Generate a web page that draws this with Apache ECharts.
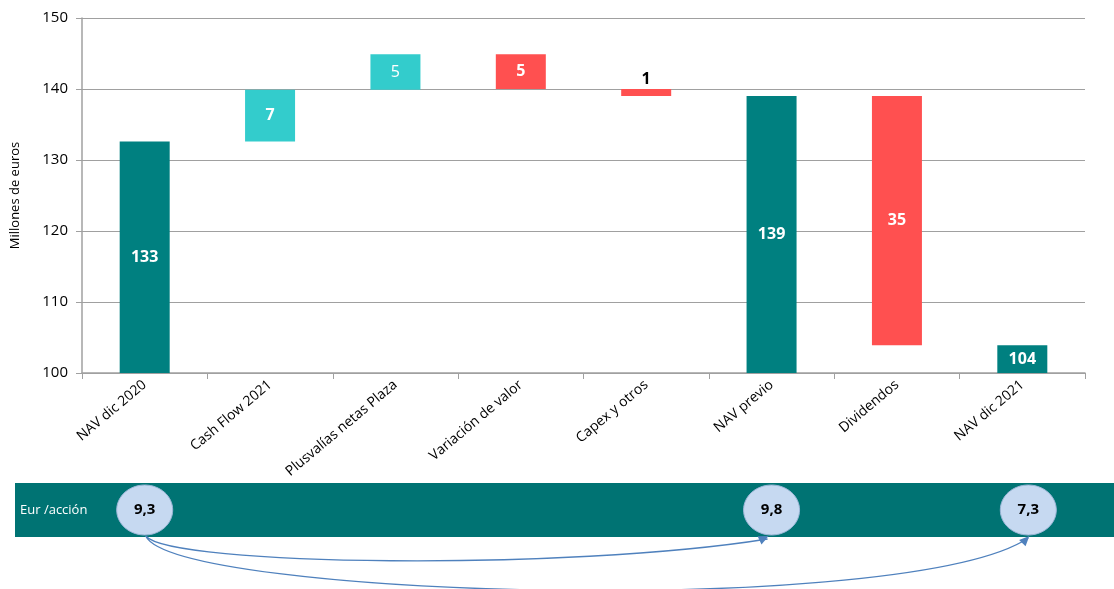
<!DOCTYPE html>
<html><head><meta charset="utf-8">
<script src="https://cdn.jsdelivr.net/npm/echarts@6/dist/echarts.min.js"></script>
<style>html,body{margin:0;padding:0;background:#fff}#c{width:1114px;height:589px}</style>
</head><body><div id="c"></div>
<script>
var categories = ['NAV dic 2020','Cash Flow 2021','Plusvalías netas Plaza','Variación de valor','Capex y otros','NAV previo','Dividendos','NAV dic 2021'];
var barLow  = [100, 132.6, 139.9, 140.0, 139.0, 100, 103.9, 100];
var barHigh = [132.6, 139.9, 144.9, 144.9, 140.0, 139.0, 139.0, 103.9];
var barLabels = ['133','7','5','5','1','139','35','104'];
var barKinds = ['total','up','up','down','down','total','down','total'];
var yTicks = [100, 150, 10];
var perShareIdx = [0, 5, 7];
var perShareVals = ['9,3','9,8','7,3'];

var colors = {total:'#008080', up:'#33CCCC', down:'#FF5050'};
var FONT = 'Open Sans';

var chart = echarts.init(document.getElementById('c'));
var valueData = barHigh.map(function(h,i){
  var lblColor = i===4 ? '#000' : '#fff';
  return {
    value: +(h - barLow[i]).toFixed(2),
    itemStyle:{color: colors[barKinds[i]]},
    label:{show:true, formatter: barLabels[i], position: i===4 ? 'top' : 'inside',
      color: lblColor, fontWeight: i===2 ? 'normal' : 'bold', fontSize:16, fontFamily:FONT, distance:2}
  };
});
chart.setOption({
  animation:false,
  grid:{left:82, right:29, top:18, bottom:216},
  xAxis:{type:'category', data:categories,
    axisLine:{lineStyle:{color:'#a0a0a0', width:1.5}},
    axisTick:{show:true, alignWithLabel:false, length:6, lineStyle:{color:'#a0a0a0'}},
    axisLabel:{rotate:40, color:'#000', fontSize:14, fontFamily:FONT, margin:10, interval:0}},
  yAxis:{type:'value', min:yTicks[0], max:yTicks[1], interval:yTicks[2],
    name:'Millones de euros', nameLocation:'middle', nameGap:60, nameRotate:90,
    nameTextStyle:{color:'#000', fontSize:13, fontFamily:FONT},
    axisLine:{show:true, lineStyle:{color:'#a0a0a0', width:1.5}},
    axisTick:{show:true, length:6, lineStyle:{color:'#a0a0a0'}},
    axisLabel:{color:'#000', fontSize:15, fontFamily:FONT, margin:14},
    splitLine:{lineStyle:{color:'#a0a0a0', width:1.2}}},
  series:[
    {type:'bar', stack:'w', data:barLow, itemStyle:{color:'transparent'}, barWidth:50, silent:true},
    {type:'bar', stack:'w', data:valueData, barWidth:50}
  ]
});

// lower per-share band
var px = perShareIdx.map(function(i){ return chart.convertToPixel({xAxisIndex:0}, i); });
var bandY = 510;
var g = [
  {type:'rect', shape:{x:15, y:483, width:1099, height:54}, style:{fill:'#007373'}, z:1},
  {type:'text', style:{text:'Eur /acción', x:20, y:bandY, verticalAlign:'middle', fill:'#fff', font:'13px "'+FONT+'"'}, z:2}
];
px.forEach(function(x,k){
  var cx = x + (k===2 ? 6 : 0);
  g.push({type:'ellipse', shape:{cx:cx, cy:bandY, rx:28, ry:25}, style:{fill:'#C6D9F1', stroke:'#9db7d8', lineWidth:1}, z:3});
  g.push({type:'text', style:{text:perShareVals[k], x:cx, y:bandY, align:'center', verticalAlign:'middle', fill:'#000', font:'bold 15px "'+FONT+'"'}, z:4});
});
var sx = px[0]+1, sy = bandY+26;
var e1x = px[1]-4, e1y = bandY+29;
var e2x = px[2]+6, e2y = bandY+28;
g.push({type:'bezierCurve', shape:{x1:sx, y1:sy, cpx1:sx+25, cpy1:sy+30, cpx2:e1x-200, cpy2:e1y+32, x2:e1x, y2:e1y},
  style:{stroke:'#4F81BD', lineWidth:1.3, fill:null}, z:3});
g.push({type:'bezierCurve', shape:{x1:sx, y1:sy, cpx1:sx+30, cpy1:sy+62, cpx2:e2x-120, cpy2:e2y+80, x2:e2x, y2:e2y},
  style:{stroke:'#4F81BD', lineWidth:1.3, fill:null}, z:3});
function head(x,y,ang){
  var L=10, W=4.5;
  var dx=Math.cos(ang), dy=Math.sin(ang);
  var bx=x-dx*L, by=y-dy*L;
  return {type:'polygon', shape:{points:[[x,y],[bx-dy*W,by+dx*W],[bx+dy*W,by-dx*W]]}, style:{fill:'#4F81BD'}, z:4};
}
g.push(head(e1x+1, e1y-3, -0.45));
g.push(head(e2x+1, e2y-2, -0.8));
chart.setOption({graphic:g});
</script></body></html>
